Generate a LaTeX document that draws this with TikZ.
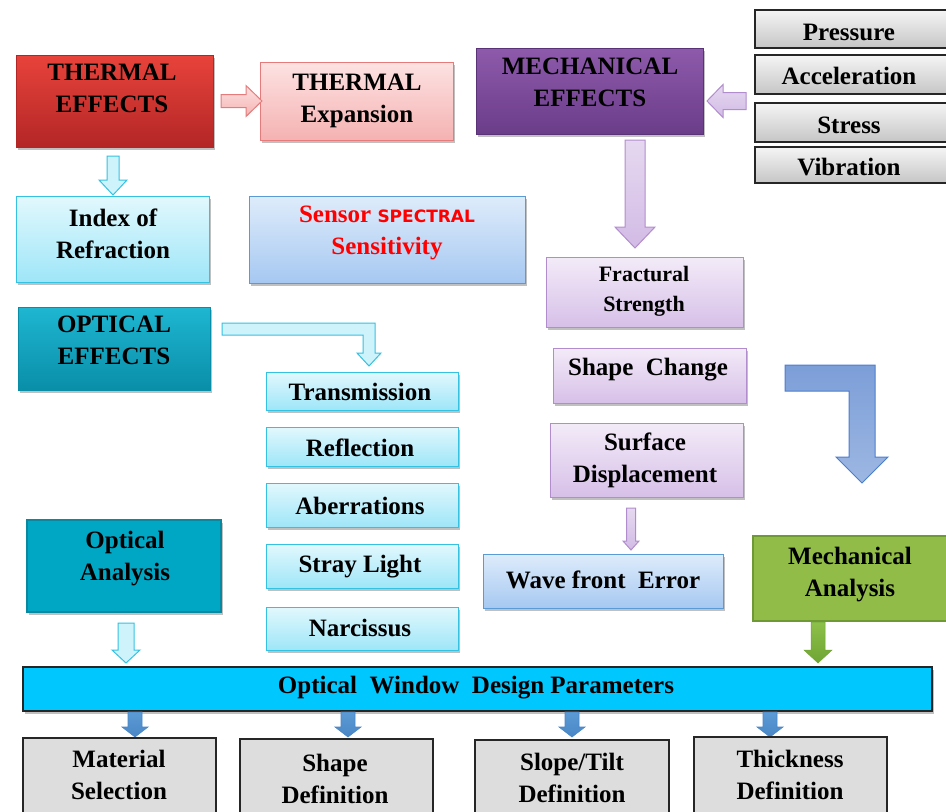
\documentclass[tikz,border=0pt]{standalone}
\usepackage{fontspec}
\setmainfont{Liberation Serif}
\newfontfamily\dvs{DejaVu Sans}
\usetikzlibrary{fit,shadows}
\definecolor{teA}{HTML}{E8433B}\definecolor{teB}{HTML}{B32626}
\definecolor{txA}{HTML}{FDE2E2}\definecolor{txB}{HTML}{F5B2B2}\definecolor{txD}{HTML}{E57B7B}
\definecolor{cyA}{HTML}{E2F8FD}\definecolor{cyB}{HTML}{9EE6F8}\definecolor{cyD}{HTML}{35C2E2}
\definecolor{blA}{HTML}{DEECFB}\definecolor{blB}{HTML}{A6C8F1}\definecolor{blD}{HTML}{5B9BD5}
\definecolor{meA}{HTML}{8E5AAB}\definecolor{meB}{HTML}{6A3D89}\definecolor{meD}{HTML}{5A3278}
\definecolor{puA}{HTML}{F3EBF8}\definecolor{puB}{HTML}{D7C0E8}\definecolor{puD}{HTML}{B28DCD}
\definecolor{paA}{HTML}{E6D8F0}\definecolor{paB}{HTML}{D2BBE5}
\definecolor{oeA}{HTML}{1EB6D2}\definecolor{oeB}{HTML}{0A8EA8}
\definecolor{oaF}{HTML}{00A7C4}\definecolor{oaD}{HTML}{0A889F}
\definecolor{maF}{HTML}{92BC48}\definecolor{maD}{HTML}{6E9934}
\definecolor{grA}{HTML}{8DC04A}\definecolor{grB}{HTML}{6FA534}
\definecolor{odF}{HTML}{00C8FF}
\definecolor{bbA}{HTML}{7C9ED8}\definecolor{bbB}{HTML}{9DB7E2}\definecolor{bbD}{HTML}{4A7FD0}
\definecolor{sbA}{HTML}{5B9BD5}\definecolor{sbB}{HTML}{4A86C6}
\tikzset{
  box/.style={inner sep=0pt, line width=1pt},
  shd/.style={drop shadow={shadow xshift=2pt, shadow yshift=-3pt, opacity=0.35, fill=black!70}},
  lbl/.style={font=\bfseries\fontsize{25}{32}\selectfont, align=center, inner sep=0pt, text=black},
  teS/.style={box, shd, top color=teA, bottom color=teB, draw=teB},
  txS/.style={box, shd, top color=txA, bottom color=txB, draw=txD},
  cyS/.style={box, shd, top color=cyA, bottom color=cyB, draw=cyD},
  blS/.style={box, shd, top color=blA, bottom color=blB, draw=blD},
  meS/.style={box, shd, top color=meA, bottom color=meB, draw=meD},
  puS/.style={box, shd, top color=puA, bottom color=puB, draw=puD},
  oeS/.style={box, shd, top color=oeA, bottom color=oeB, draw=oeB},
  oaS/.style={box, shd, fill=oaF, draw=oaD, line width=2.5pt},
  maS/.style={box, fill=maF, draw=maD, line width=2.5pt},
  gyS/.style={box, top color=gray!8, bottom color=gray!45, draw=black!85, line width=1.6pt},
  odS/.style={box, shd, fill=odF, draw=black!85, line width=2pt},
  btS/.style={box, fill=gray!27, draw=black!85, line width=2pt},
  arP/.style={top color=txA, bottom color=txB, draw=txD, line width=1pt},
  arC/.style={fill=cyA!70!cyB, draw=cyD, line width=1pt},
  arU/.style={top color=paA, bottom color=paB, draw=puD, line width=1pt},
  arB/.style={top color=bbA, bottom color=bbB, draw=bbD, line width=1pt},
  arG/.style={top color=grA, bottom color=grB, draw=grB, line width=0.5pt},
  arS/.style={top color=sbA, bottom color=sbB, draw=sbB, line width=0.6pt},
}
% down block arrow: style, cx, ytop, ytip, shaft half width, head half width, head length
\newcommand\dnarrow[7]{\draw[#1] ({#2-#5},#3) -- ({#2+#5},#3) -- ({#2+#5},{#4-#7}) -- ({#2+#6},{#4-#7}) -- (#2,#4) -- ({#2-#6},{#4-#7}) -- ({#2-#5},{#4-#7}) -- cycle;}
% horizontal block arrow: style, cy, xstart, xtip, shaft hw, head hw, head length (sign by direction)
\newcommand\hzarrow[7]{\draw[#1] (#3,{#2-#5}) -- ({#4-#7},{#2-#5}) -- ({#4-#7},{#2-#6}) -- (#4,#2) -- ({#4-#7},{#2+#6}) -- ({#4-#7},{#2+#5}) -- (#3,{#2+#5}) -- cycle;}
\begin{document}
\begin{tikzpicture}[x=1pt,y=-1pt]
\useasboundingbox (0,0) rectangle (946,812);
\clip (0,0) rectangle (946,812);
\fill[white] (0,0) rectangle (946,812);

% ---------- thermal ----------
\node[teS, fit={(16,55) (213,147)}] (te) {};
\node[lbl] (te-l) at (112,88) {THERMAL\\EFFECTS};
\node[txS, fit={(260,62) (453,140)}] (tx) {};
\node[lbl] (tx-l) at (357,101) {THERMAL\\Expansion};
\hzarrow{arP}{101}{221}{262}{6.5}{15.5}{16}
\dnarrow{arC}{113}{156}{195}{6}{14}{15}
\node[cyS, fit={(16,196) (209,282)}] (ir) {};
\node[lbl] (ir-l) at (113,234) {Index of\\Refraction};
\node[blS, fit={(249,196) (525,283)}] (ss) {};
\node[lbl, text=red] (ss-l) at (387,233) {Sensor {\dvs\fontsize{17}{32}\selectfont SPECTRAL}\\Sensitivity};

% ---------- mechanical ----------
\node[meS, fit={(476,48) (703,134)}] (me) {};
\node[lbl] (me-l) at (590,82) {MECHANICAL\\EFFECTS};
\node[gyS, fit={(755,10) (960,48)}] (pr) {};
\node[gyS, fit={(755,55) (960,94)}] (ac) {};
\node[gyS, fit={(755,103) (960,142)}] (st) {};
\node[gyS, fit={(755,147) (960,183)}] (vi) {};
\node[lbl] (pr-l) at (849,32) {Pressure};
\node[lbl] (ac-l) at (849,76) {Acceleration};
\node[lbl] (st-l) at (849,125) {Stress};
\node[lbl] (vi-l) at (849,167) {Vibration};
\hzarrow{arU}{101}{746}{707}{8.5}{16.5}{-16}
\dnarrow{arU}{635}{140}{248}{10}{20}{21}
\node[puS, fit={(546,257) (743,327)}] (fs) {};
\node[lbl, font=\bfseries\fontsize{22}{30}\selectfont] (fs-l) at (644,291) {Fractural\\Strength};
\node[puS, fit={(553,348) (746,403)}] (sc) {};
\node[lbl] (sc-l) at (648,370) {Shape~~Change};
\node[puS, fit={(550,423) (743,497)}] (sd) {};
\node[lbl] (sd-l) at (645,460) {Surface\\Displacement};
\dnarrow{arU}{631}{508}{550}{4.5}{8}{9}
\node[blS, fit={(483,554) (723,608)}] (wf) {};
\node[lbl] (wf-l) at (603,580) {Wave front~~Error};
\draw[arB] (785,365) -- (875,365) -- (875,457) -- (888,457) -- (862,483) -- (836,457) -- (849,457) -- (849,391) -- (785,391) -- cycle;
\node[maS, fit={(753,536) (960,621)}] (ma) {};
\node[lbl] (ma-l) at (850,575) {Mechanical\\Analysis};
\dnarrow{arG}{818}{622}{663}{7}{14}{13}

% ---------- optical ----------
\node[oeS, fit={(18,307) (210,390)}] (oe) {};
\node[lbl] (oe-l) at (114,340) {OPTICAL\\EFFECTS};
\draw[arC] (222,323) -- (375,323) -- (375,353) -- (381,353) -- (369,366) -- (357,353) -- (363,353) -- (363,335) -- (222,335) -- cycle;
\node[cyS, fit={(266,372) (458,410)}] (tr) {};
\node[lbl] (tr-l) at (360,392) {Transmission};
\node[cyS, fit={(266,427) (458,466)}] (re) {};
\node[lbl] (re-l) at (360,448) {Reflection};
\node[cyS, fit={(266,483) (458,527)}] (ab) {};
\node[lbl] (ab-l) at (360,506) {Aberrations};
\node[cyS, fit={(266,544) (458,588)}] (sl) {};
\node[lbl] (sl-l) at (360,567) {Stray Light};
\node[cyS, fit={(266,607) (458,650)}] (na) {};
\node[lbl] (na-l) at (360,628) {Narcissus};
\node[oaS, fit={(27,520) (221,612)}] (oa) {};
\node[lbl] (oa-l) at (125,559) {Optical\\Analysis};
\dnarrow{arC}{126}{623}{663}{8}{14}{13}

% ---------- design parameters ----------
\node[odS, fit={(23,667) (932,711)}] (od) {};
\node[lbl] (od-l) at (476,688) {Optical~~Window~~Design Parameters};
\dnarrow{arS}{135}{712}{737}{7}{13}{10}
\dnarrow{arS}{348}{712}{737}{7}{13}{10}
\dnarrow{arS}{572}{712}{737}{7}{13}{10}
\dnarrow{arS}{770}{712}{737}{7}{13}{10}
\node[btS, fit={(23,738) (216,830)}] (ms) {};
\node[lbl] (ms-l) at (119,775) {Material\\Selection};
\node[btS, fit={(240,739) (433,830)}] (sh) {};
\node[lbl] (sh-l) at (335,779) {Shape\\Definition};
\node[btS, fit={(475,740) (669,830)}] (sp) {};
\node[lbl] (sp-l) at (572,778) {Slope/Tilt\\Definition};
\node[btS, fit={(694,737) (887,830)}] (th) {};
\node[lbl] (th-l) at (790,775) {Thickness\\Definition};
\end{tikzpicture}
\end{document}
